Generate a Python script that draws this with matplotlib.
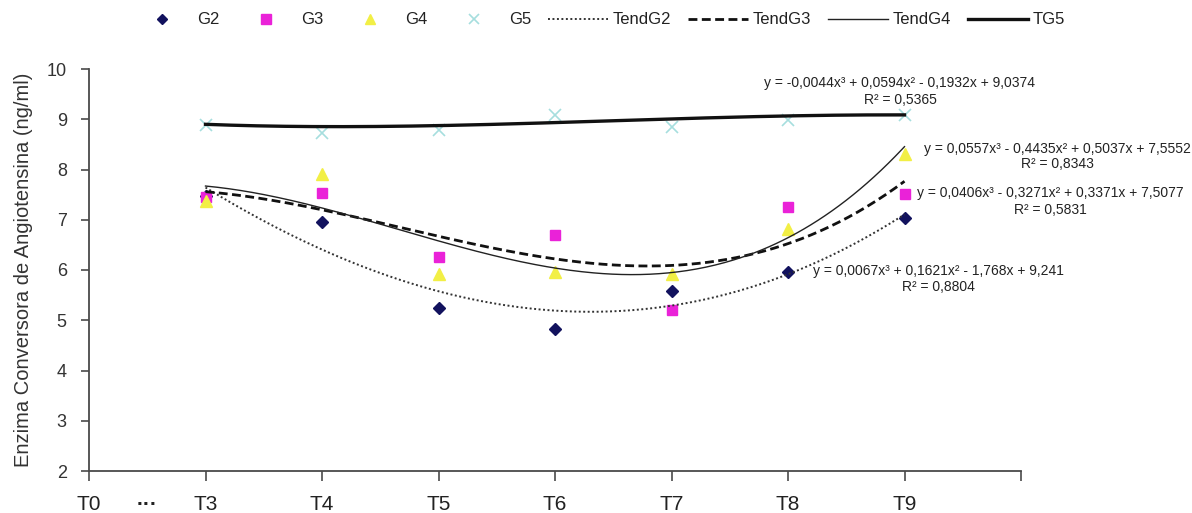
import numpy as np
import matplotlib
matplotlib.use("Agg")
import matplotlib.pyplot as plt
from matplotlib.lines import Line2D

# ---- data -------------------------------------------------------------
time_labels = ["T3", "T4", "T5", "T6", "T7", "T8", "T9"]
time_index = [1, 2, 3, 4, 5, 6, 7]

g2 = [7.48, 6.95, 5.24, 4.82, 5.59, 5.97, 7.03]
g3 = [7.45, 7.53, 6.26, 6.70, 5.20, 7.25, 7.51]
g4 = [7.38, 7.91, 5.92, 5.97, 5.92, 6.81, 8.31]
g5 = [8.89, 8.73, 8.79, 9.08, 8.84, 8.98, 9.08]

# cubic trend coefficients (highest power first) and R²
trend_g2 = [0.0067, 0.1621, -1.768, 9.241]
trend_g3 = [0.0406, -0.3271, 0.3371, 7.5077]
trend_g4 = [0.0557, -0.4435, 0.5037, 7.5552]
trend_g5 = [-0.0044, 0.0594, -0.1932, 9.0374]
r2_g2, r2_g3, r2_g4, r2_g5 = 0.8804, 0.5831, 0.8343, 0.5365

series_names = ["G2", "G3", "G4", "G5"]
trend_names = ["TendG2", "TendG3", "TendG4", "TG5"]

# ---- figure -----------------------------------------------------------
W, H = 1192, 513
plt.rcParams["font.family"] = ["Liberation Sans", "DejaVu Sans"]
fig = plt.figure(figsize=(W / 100, H / 100), dpi=100)

def px(x, y):
    return x / W, 1 - y / H

left, right, top, bottom = 89, 1021, 69, 471
ax = fig.add_axes([left / W, 1 - bottom / H, (right - left) / W, (bottom - top) / H])

axis_col = "#4a4a4a"
for s in ("top", "right"):
    ax.spines[s].set_visible(False)
for s in ("left", "bottom"):
    ax.spines[s].set_color(axis_col)
    ax.spines[s].set_linewidth(1.3)

ax.set_xlim(0, 8)
ax.set_ylim(2, 10)

# markers
ax.plot(time_index, g2, ls="none", marker="D", ms=6.2, color="#12125e", zorder=3)
ax.plot(time_index, g3, ls="none", marker="s", ms=7.5, color="#ea22d8", zorder=3)
ax.plot(time_index, g4, ls="none", marker="^", ms=8.5, color="#f2ef45", zorder=3)
ax.plot(time_index, g5, ls="none", marker="x", ms=8, mew=1.2, color="#a6dede", zorder=3)

# trend curves over the sampled range
xs = np.linspace(time_index[0], time_index[-1], 300)
ax.plot(xs, np.polyval(trend_g2, xs), color="#333333", lw=1.4, ls=(0, (1, 1.3)), zorder=4)
ax.plot(xs, np.polyval(trend_g3, xs), color="#111111", lw=2.0, ls=(0, (3.2, 1.6)), zorder=4)
ax.plot(xs, np.polyval(trend_g4, xs), color="#222222", lw=1.0, zorder=4)
ax.plot(xs, np.polyval(trend_g5, xs), color="#111111", lw=2.4, zorder=4)

# axes ticks
ax.set_yticks(range(2, 11))
ax.tick_params(axis="y", direction="out", length=6, width=1.2, color=axis_col,
               labelsize=13, pad=10, labelcolor="#333333")
ax.set_xticks([0] + time_index + [8])
ax.set_xticklabels(["T0"] + time_labels + [""])
ax.set_xticks([0.5], minor=True)
ax.set_xticklabels(["\u00b7\u00b7\u00b7"], minor=True, fontweight="bold")
ax.tick_params(axis="x", which="major", direction="out", length=7, width=1.2,
               color=axis_col, labelsize=15, pad=10, labelcolor="#222222")
ax.tick_params(axis="x", which="minor", length=0, labelsize=15, pad=17,
               labelcolor="#222222")

fig.text(*px(24, 270), "Enzima Conversora de Angiotensina (ng/ml)", rotation=90,
         ha="center", va="center", fontsize=14.5, color="#333333")

# trend equations
def num(v):
    s = f"{abs(v):.4f}".rstrip("0").rstrip(".")
    return s.replace(".", ",")

def equation(c):
    powers = ["x\u00b3", "x\u00b2", "x", ""]
    out = "y = " + ("-" if c[0] < 0 else "") + num(c[0]) + powers[0]
    for v, p in zip(c[1:], powers[1:]):
        out += (" - " if v < 0 else " + ") + num(v) + p
    return out

eq_style = dict(ha="center", va="center", fontsize=10, color="#222222")
for coefs, r2, (cx, y1, y2) in [
    (trend_g5, r2_g5, (900, 83, 100)),
    (trend_g4, r2_g4, (1057, 149, 164)),
    (trend_g3, r2_g3, (1050, 193, 210)),
    (trend_g2, r2_g2, (938, 271, 287)),
]:
    fig.text(*px(cx, y1), equation(coefs), **eq_style)
    fig.text(*px(cx, y2), "R\u00b2 = " + num(r2), **eq_style)

# legend
handles = [
    Line2D([], [], ls="none", marker="D", ms=5.5, color="#12125e"),
    Line2D([], [], ls="none", marker="s", ms=6.5, color="#ea22d8"),
    Line2D([], [], ls="none", marker="^", ms=7, color="#f2ef45"),
    Line2D([], [], ls="none", marker="x", ms=6.5, mew=1.2, color="#a6dede"),
    Line2D([], [], color="#333333", lw=1.4, ls=(0, (1, 1.3))),
    Line2D([], [], color="#111111", lw=2.0, ls=(0, (3.2, 1.6))),
    Line2D([], [], color="#222222", lw=1.0),
    Line2D([], [], color="#111111", lw=2.4),
]
fig.legend(handles, series_names + trend_names, ncol=8, frameon=False,
           loc="center left", bbox_to_anchor=px(132, 20), borderpad=0,
           borderaxespad=0, fontsize=12, handlelength=3.6, handletextpad=0.3,
           columnspacing=1.0, labelcolor="#222222")

fig.savefig("out.png", dpi=100)
